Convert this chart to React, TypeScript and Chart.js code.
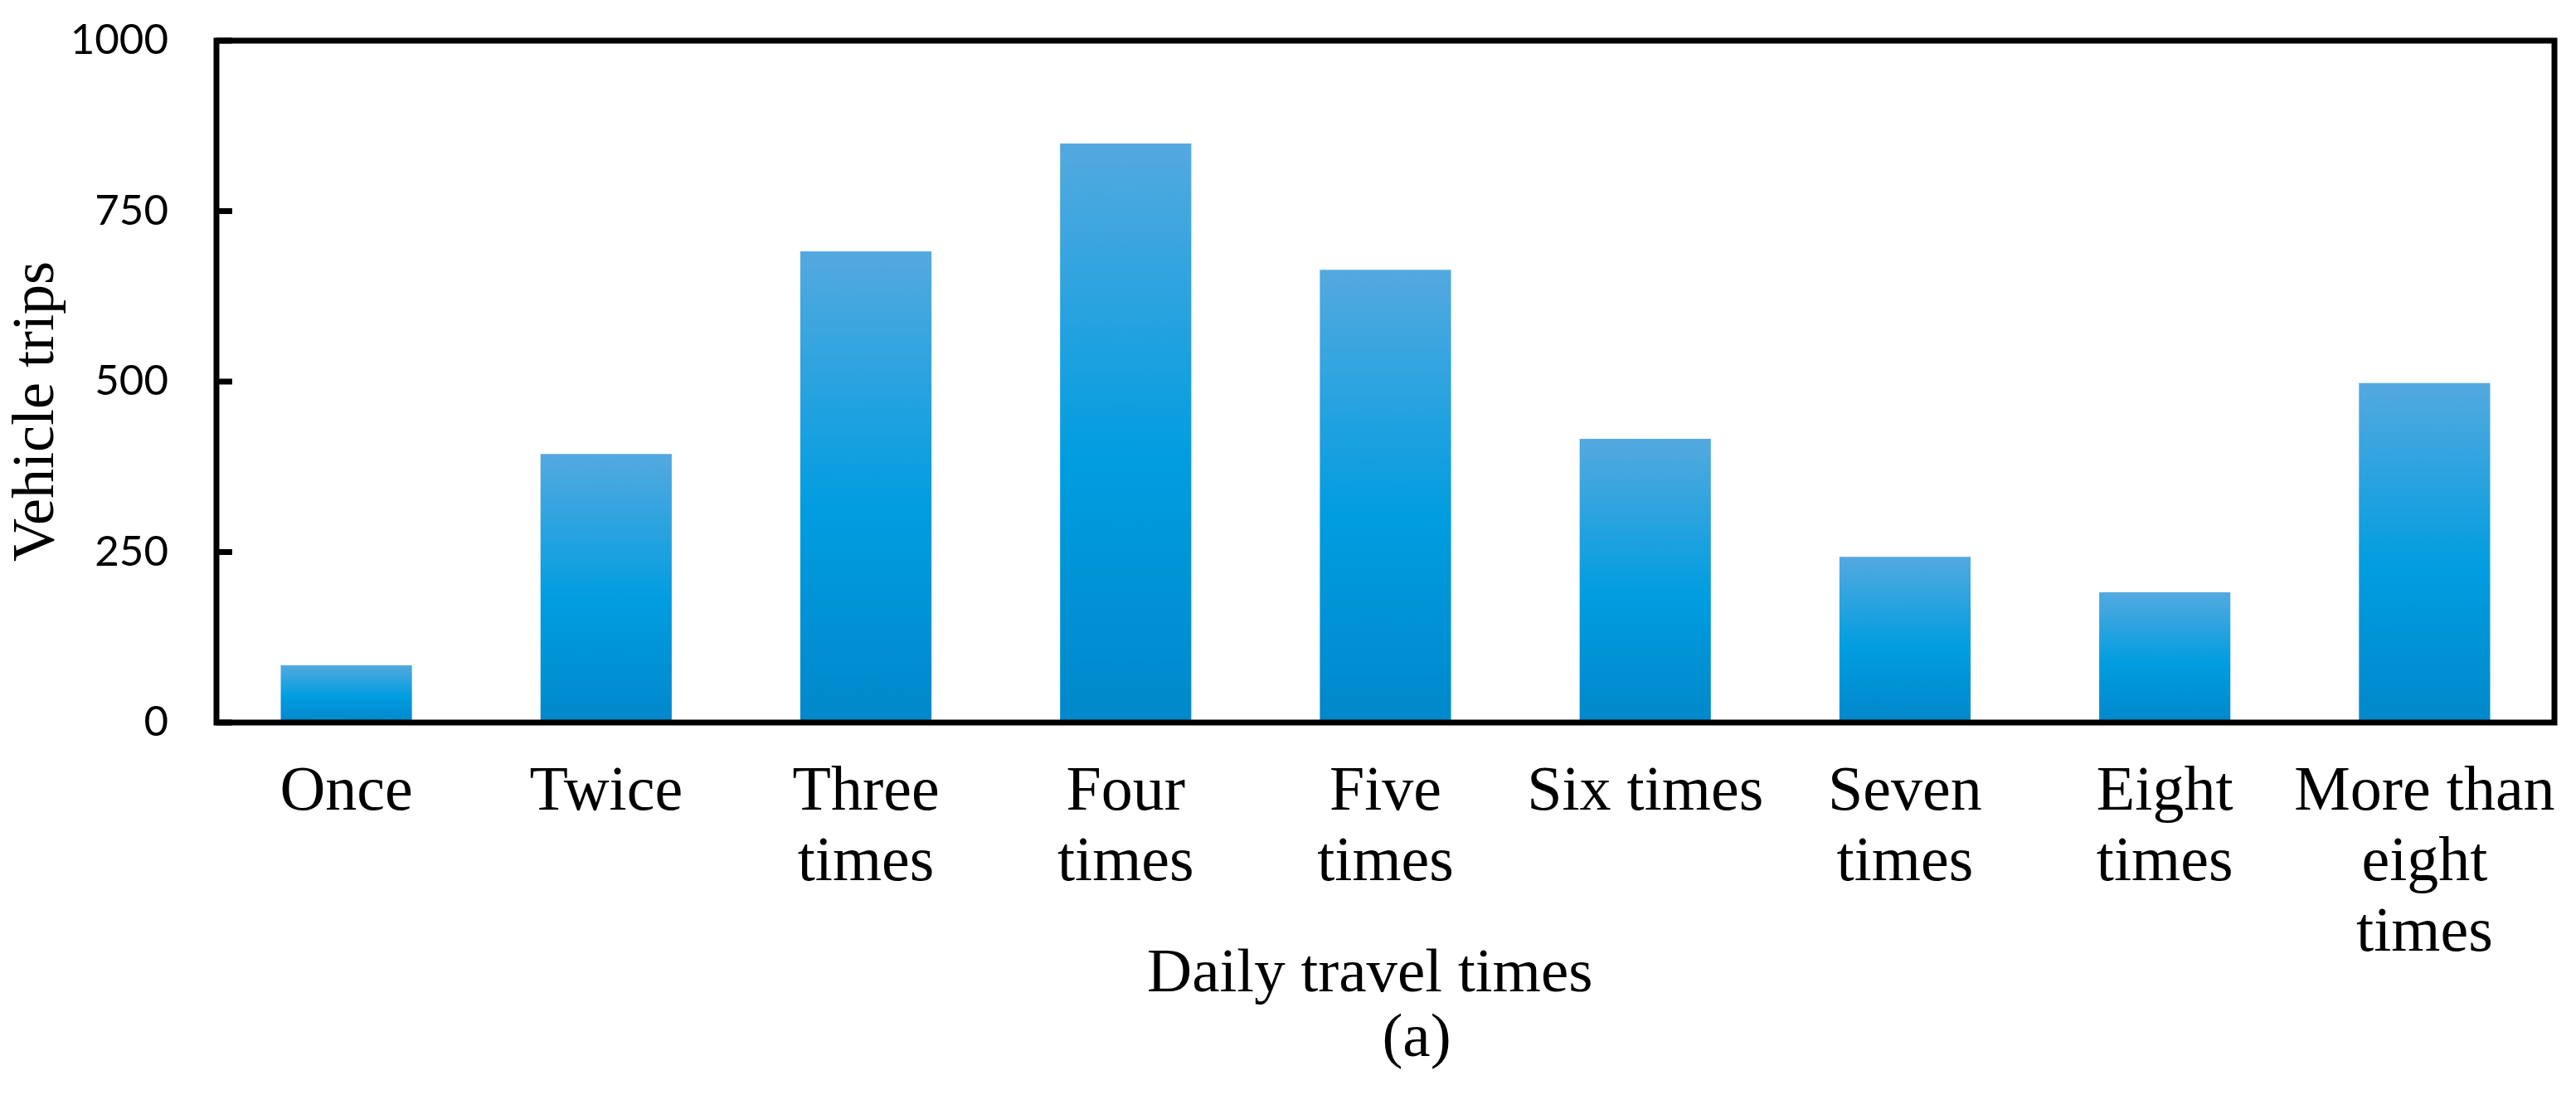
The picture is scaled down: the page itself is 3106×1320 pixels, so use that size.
import React, { useEffect, useRef } from "react";
import { Chart, registerables } from "chart.js";

Chart.register(...registerables);

// ---- data ----
const categories: string[][] = [
  ["Once"],
  ["Twice"],
  ["Three", "times"],
  ["Four", "times"],
  ["Five", "times"],
  ["Six times"],
  ["Seven", "times"],
  ["Eight", "times"],
  ["More than", "eight", "times"],
];
const vehicleTrips: number[] = [84, 394, 691, 849, 664, 416, 243, 191, 498];
const yTickValues: number[] = [0, 250, 500, 750, 1000];
const xTitle = "Daily travel times";
const yTitle = "Vehicle trips";
const panelLabel = "(a)";

const SERIF = "'Liberation Serif', 'Times New Roman', serif";
const SANS = "Lato, 'Open Sans', sans-serif";

const gradientPlugin = {
  id: "barGradient",
  beforeDatasetsDraw(chart: any) {
    const ctx = chart.ctx;
    const meta = chart.getDatasetMeta(0);
    meta.data.forEach((el: any) => {
      const { y, base } = el.getProps(["y", "base"], true);
      const g = ctx.createLinearGradient(0, y, 0, base);
      g.addColorStop(0, "rgb(84,169,223)");
      g.addColorStop(0.55, "rgb(0,157,224)");
      g.addColorStop(1, "rgb(0,136,202)");
      el.options = Object.assign({}, el.options, { backgroundColor: g });
    });
  },
};

// black frame around the plot area plus inward y tick marks
const framePlugin = {
  id: "frame",
  afterDatasetsDraw(chart: any) {
    const { ctx, chartArea } = chart;
    const yScale = chart.scales.y;
    ctx.save();
    ctx.strokeStyle = "#000";
    ctx.lineWidth = 7;
    ctx.lineJoin = "miter";
    ctx.strokeRect(
      chartArea.left,
      chartArea.top,
      chartArea.right - chartArea.left,
      chartArea.bottom - chartArea.top
    );
    yTickValues.forEach((v) => {
      const py = yScale.getPixelForValue(v);
      ctx.beginPath();
      ctx.moveTo(chartArea.left, py);
      ctx.lineTo(chartArea.left + 19, py);
      ctx.stroke();
    });
    ctx.restore();
  },
};

export default function App() {
  const canvasRef = useRef<HTMLCanvasElement | null>(null);

  useEffect(() => {
    if (!canvasRef.current) return;
    const chart = new Chart(canvasRef.current, {
      type: "bar",
      data: {
        labels: categories,
        datasets: [
          {
            data: vehicleTrips,
            backgroundColor: "rgb(0,157,224)",
            borderWidth: 0,
            barPercentage: 0.505,
            categoryPercentage: 1,
          },
        ],
      },
      options: {
        animation: false,
        responsive: true,
        maintainAspectRatio: false,
        layout: { padding: { top: 49, right: 26, bottom: 0, left: 0 } },
        plugins: {
          legend: { display: false },
          tooltip: { enabled: false },
          title: { display: false },
        },
        scales: {
          x: {
            afterFit: (s: any) => {
              s.height = 449;
            },
            grid: {
              display: true,
              drawOnChartArea: false,
              drawTicks: true,
              tickLength: 35,
              color: "rgba(0,0,0,0)",
            },
            border: { display: false },
            ticks: {
              color: "#000",
              padding: 8,
              maxRotation: 0,
              autoSkip: false,
              font: { family: SERIF, size: 76, lineHeight: 1.118 },
            },
            title: {
              display: true,
              text: [xTitle + "  ", "    " + panelLabel],
              color: "#000",
              font: { family: SERIF, size: 75, lineHeight: 1.04 },
              padding: { top: 0, bottom: 28 },
            },
          },
          y: {
            min: 0,
            max: 1000,
            afterBuildTicks: (s: any) => {
              s.ticks = yTickValues.map((v) => ({ value: v }));
            },
            afterFit: (s: any) => {
              s.width = 261;
            },
            grid: {
              display: true,
              drawOnChartArea: false,
              drawTicks: true,
              tickLength: 48,
              color: "rgba(0,0,0,0)",
            },
            border: { display: false },
            ticks: {
              color: "#000",
              padding: 10,
              callback: (v: any) => String(v),
              font: { family: SANS, size: 51, lineHeight: 1.0 },
            },
            title: {
              display: true,
              text: yTitle + "    ",
              color: "#000",
              font: { family: SERIF, size: 72, lineHeight: 1.2 },
              padding: { top: 2, bottom: 0 },
            },
          },
        },
      },
      plugins: [gradientPlugin, framePlugin],
    });
    return () => chart.destroy();
  }, []);

  return (
    <div
      style={{
        position: "fixed",
        left: 0,
        top: 0,
        width: 3106,
        height: 1320,
        background: "#fff",
      }}
    >
      <canvas ref={canvasRef} />
    </div>
  );
}
